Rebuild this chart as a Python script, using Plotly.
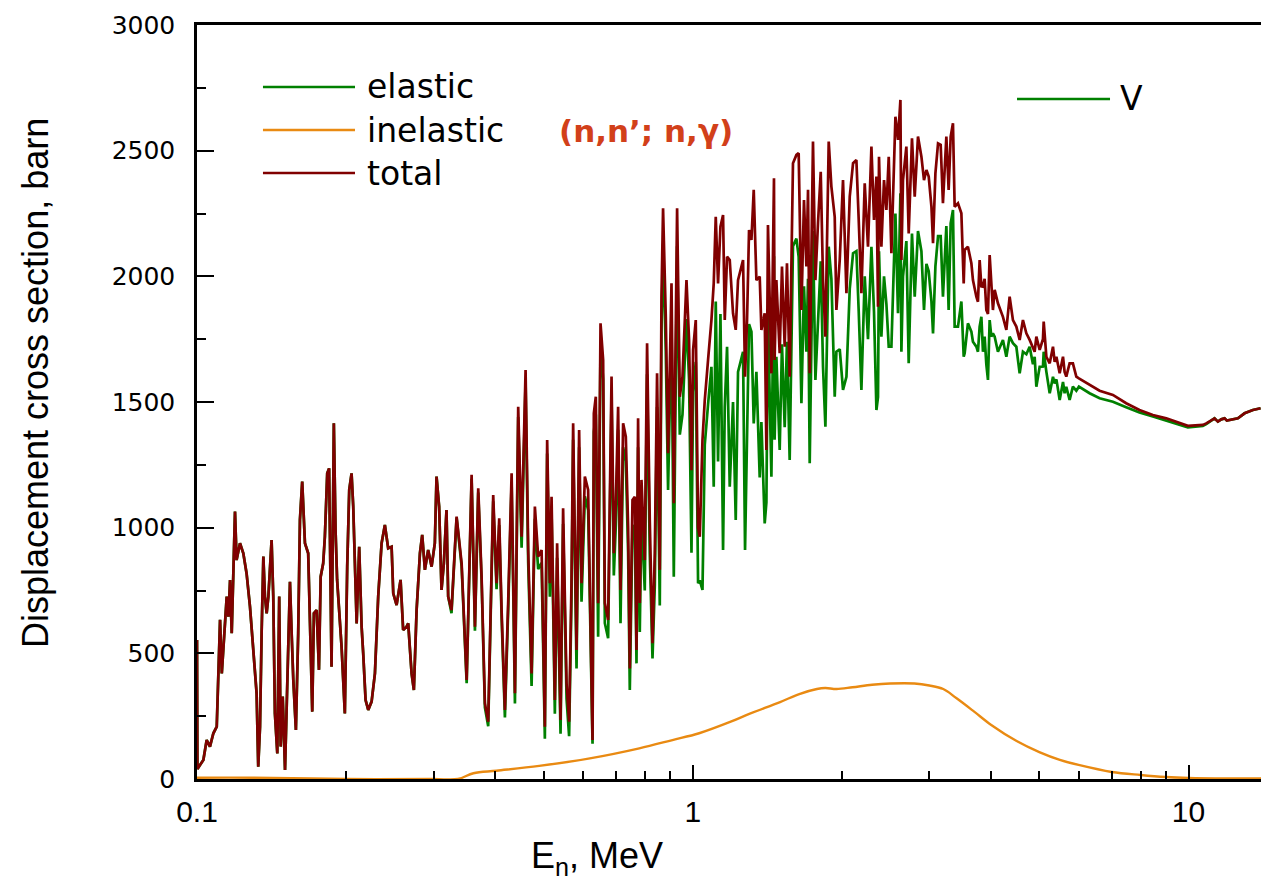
import math
import plotly.graph_objects as go

# ---------------- data ----------------
# Neutron energy, MeV (below the inelastic threshold total == elastic)
E_low = [0.1000, 0.1002, 0.1030, 0.1046, 0.1062, 0.1079, 0.1096, 0.1113, 0.1122, 0.1130,
         0.1148, 0.1157, 0.1166, 0.1175, 0.1184, 0.1193, 0.1202, 0.1221, 0.1240, 0.1259,
         0.1279, 0.1299, 0.1319, 0.1329, 0.1340, 0.1350, 0.1361, 0.1371, 0.1382, 0.1393,
         0.1414, 0.1425, 0.1436, 0.1452, 0.1465, 0.1475, 0.1489, 0.1505, 0.1521, 0.1540,
         0.1552, 0.1564, 0.1583, 0.1600, 0.1613, 0.1630, 0.1651, 0.1676, 0.1708, 0.1721,
         0.1743, 0.1762, 0.1776, 0.1797, 0.1811, 0.1831, 0.1847, 0.1868, 0.1888, 0.1903,
         0.1917, 0.1957, 0.1987, 0.2009, 0.2028, 0.2050, 0.2066, 0.2099, 0.2124, 0.2148,
         0.2164, 0.2188, 0.2215, 0.2250, 0.2285, 0.2320, 0.2357, 0.2393, 0.2430, 0.2469,
         0.2488, 0.2527, 0.2574, 0.2605, 0.2647, 0.2667, 0.2709, 0.2738, 0.2773, 0.2816,
         0.2846, 0.2882, 0.2926, 0.2973, 0.3018, 0.3042, 0.3079, 0.3113, 0.3147, 0.3186,
         0.3211]
total_low = [553, 40, 76, 155, 129, 182, 208, 633, 420, 527,
             726, 646, 792, 580, 792, 1064, 871, 938, 898, 818,
             686, 500, 341, 49, 208, 580, 885, 726, 659, 726,
             951, 726, 261, 102, 726, 129, 328, 36, 394, 785,
             580, 394, 195, 580, 1031, 1183, 938, 898, 268, 659,
             672, 434, 805, 858, 964, 1216, 1236, 447, 1415, 991,
             792, 527, 261, 845, 1150, 1216, 1084, 619, 924, 606,
             500, 314, 275, 308, 420, 726, 938, 1011, 918, 924,
             739, 692, 792, 593, 606, 619, 420, 354, 672, 898,
             971, 832, 911, 845, 938, 1203, 1084, 752, 858, 1070,
             726]
elastic_low = total_low  # elastic and total coincide below ~0.33 MeV

E_mid = [0.3261, 0.3339, 0.3418, 0.3499, 0.3580, 0.3636, 0.3692, 0.3750, 0.3808, 0.3867,
         0.3910, 0.3958, 0.4020, 0.4070, 0.4115, 0.4179, 0.4244, 0.4311, 0.4378, 0.4445,
         0.4516, 0.4600, 0.4656, 0.4730, 0.4803, 0.4877, 0.4955, 0.5031, 0.5085, 0.5149,
         0.5190, 0.5270, 0.5326, 0.5411, 0.5476, 0.5564, 0.5631, 0.5693, 0.5737, 0.5828,
         0.5899, 0.5965, 0.6058, 0.6151, 0.6278,
         0.6316, 0.6374, 0.6443, 0.6515, 0.6595, 0.6647, 0.6749, 0.6857, 0.6930, 0.6995,
         0.7070, 0.7149, 0.7236, 0.7327, 0.7406, 0.7464, 0.7558, 0.7640, 0.7700, 0.7757,
         0.7818, 0.7880, 0.8001, 0.8088, 0.8189, 0.8294, 0.8383, 0.8472, 0.8579, 0.8647,
         0.8711, 0.8822, 0.8916, 0.9059, 0.9156, 0.9298, 0.9415, 0.9533, 0.9712, 0.9829,
         0.9940, 1.0014, 1.0140, 1.0249, 1.0330, 1.0461, 1.0573, 1.0735, 1.0905, 1.1022,
         1.1126, 1.1246, 1.1371, 1.1510, 1.1601, 1.1726, 1.1873, 1.2055, 1.2208, 1.2339,
         1.2479, 1.2630, 1.2747, 1.2867, 1.2986, 1.3132, 1.3272, 1.3437, 1.3646, 1.3753,
         1.3966, 1.4076, 1.4180,
         1.4407, 1.4581, 1.4623, 1.4743, 1.4973, 1.5133, 1.5325, 1.5488, 1.5684, 1.5926,
         1.6181, 1.6353, 1.6562, 1.6762, 1.6950, 1.7079, 1.7213, 1.7477, 1.7675, 1.7888,
         1.8117, 1.8310, 1.8514, 1.8802, 1.9037, 1.9333, 1.9485, 1.9789, 2.0092, 2.0414,
         2.0730, 2.1052, 2.1380, 2.1613, 2.1884, 2.2224, 2.2565, 2.2926, 2.3202, 2.3465,
         2.3640, 2.3749, 2.4013, 2.4307, 2.4578, 2.4845, 2.5155, 2.5629, 2.5938, 2.6232,
         2.6351, 2.6546, 2.6967, 2.7260, 2.7679, 2.8032, 2.8462, 2.8918, 2.9267, 2.9599,
         2.9915, 3.0296, 3.0521, 3.0860, 3.1239, 3.1623, 3.1960, 3.2471, 3.2817, 3.3129,
         3.3482, 3.3745, 3.4271, 3.4815, 3.5193,
         3.5351, 3.5892, 3.6468, 3.6738, 3.7325, 3.7601, 3.7897, 3.8204, 3.8487, 3.8789,
         3.9094, 3.9392, 3.9702, 4.0015, 4.0311, 4.0637, 4.1259, 4.2229, 4.2903, 4.3561,
         4.4239, 4.4939, 4.5638, 4.6339, 4.7081, 4.7806, 4.8550, 4.8932, 4.9317, 5.0084,
         5.0853, 5.1029, 5.1668, 5.2472, 5.3277, 5.3696, 5.4131, 5.4961, 5.5815, 5.6234,
         5.6676, 5.7559, 5.8441, 5.9377, 6.0093]
total_mid = [672, 1044, 858, 394, 1210, 606, 1157, 805, 301, 228,
             672, 1130, 779, 1037, 672, 275, 712, 1216, 341, 1481,
             964, 1627, 911, 420, 1084, 885, 911, 208, 1349, 779,
             1123, 314, 938, 235, 1077, 381, 228, 779, 1415, 513,
             1389, 779, 1203, 1150, 155,
             1455, 1521, 699, 1813, 1667, 700, 633, 1601, 898, 1097,
             1481, 752, 1415, 1362, 1004, 440, 1110, 1123, 513, 1435,
             700, 1190, 871, 1734, 1031, 540, 898, 1614, 832, 1919,
             2271, 1839, 1296, 1972, 1097, 2271, 1521, 1601, 1985, 1747,
             1229, 1707, 1826, 1000, 964, 1349, 1508, 1667, 1826, 1972,
             2237, 1972, 2198, 2244, 1826, 2078, 2065, 1853, 1787, 1985,
             2025, 2065, 1601, 1826, 2184, 2145, 2344, 1985, 1999, 1787,
             1853, 1309, 2204,
             1614, 2390, 1667, 1985, 1694, 2039, 1720, 2052, 1601, 2450,
             2483, 2490, 1866, 2304, 2039, 2344, 1614, 2536, 1985, 2211,
             2416, 1985, 1760, 2536, 2357, 2237, 1866, 2065, 2383, 1933,
             2317, 2450, 2463, 2224, 1933, 2370, 2118, 2516, 2224, 2397,
             1879, 2476, 2118, 2383, 2264, 2476, 2092, 2635, 2543, 2702,
             2065, 2383, 2516, 2171, 2549, 2317, 2556, 2476, 2383, 2423,
             2397, 2277, 2132, 2410, 2529, 2523, 2291, 2556, 2344, 2556,
             2609, 2277, 2291, 2251, 1972,
             2105, 2118, 2052, 1985, 1919, 1899, 2065, 1960, 1959, 1990,
             1866, 1850, 2085, 1959, 1866, 1946, 1893, 1839, 1787, 1919,
             1826, 1800, 1747, 1826, 1773, 1747, 1720, 1700, 1760, 1707,
             1750, 1820, 1680, 1654, 1720, 1660, 1680, 1614, 1680, 1620,
             1601, 1654, 1654, 1601, 1594]
elastic_mid = [660, 1040, 845, 381, 1195, 590, 1140, 790, 285, 210,
               650, 1105, 755, 1010, 645, 245, 680, 1180, 300, 1440,
               920, 1580, 860, 370, 1035, 835, 860, 160, 1295, 725,
               1065, 260, 880, 180, 1015, 320, 170, 715, 1350, 440,
               1320, 705, 1125, 1070, 140,
               1380, 1450, 566, 1740, 1590, 620, 560, 1520, 810, 1010,
               1390, 620, 1320, 1265, 900, 354, 1000, 1010, 460, 1320,
               585, 1070, 750, 1610, 900, 480, 770, 1480, 690, 1780,
               2130, 1700, 1150, 1825, 805, 2120, 1370, 1450, 1830, 1590,
               900, 1540, 1660, 779, 790, 752, 1330, 1490, 1640, 1163,
               1900, 1263, 1850, 911, 1480, 1720, 1163, 1500, 1031, 1620,
               1660, 1700, 911, 1460, 1810, 1780, 1415, 1620, 1200, 1420,
               1017, 1100, 1850,
               1203, 2080, 1350, 1680, 1309, 1730, 1400, 1740, 1269, 2120,
               2150, 2078, 1495, 1960, 1700, 1990, 1256, 2180, 1588, 1850,
               2060, 1640, 1402, 2118, 1990, 1521, 1700, 1710, 1548, 1600,
               1950, 2092, 2100, 1860, 1548, 2000, 1750, 2118, 1860, 1468,
               1520, 2100, 1760, 2000, 1890, 1720, 1720, 2250, 1853, 2330,
               1700, 2000, 2140, 1654, 2170, 1919, 2180, 2100, 1866, 2050,
               2020, 1900, 1773, 2040, 2160, 2160, 1919, 2200, 1866, 2211,
               2264, 1800, 1800, 1900, 1680,
               1694, 1813, 1780, 1740, 1720, 1700, 1800, 1839, 1700, 1760,
               1650, 1588, 1826, 1760, 1773, 1760, 1700, 1747, 1680, 1760,
               1734, 1720, 1614, 1700, 1690, 1720, 1650, 1680, 1561, 1640,
               1641, 1700, 1620, 1535, 1600, 1574, 1590, 1508, 1580, 1535,
               1560, 1508, 1561, 1545, 1561]

E_tail = [6.3155, 6.6155, 7.0375, 7.4851, 7.9616, 8.4723, 9.0157, 9.5917, 9.968, 10.686,
          10.856, 11.283, 11.459, 11.641, 11.822, 11.948, 12.285, 12.575, 12.972, 13.481,
          13.973]
total_tail = [1568, 1545, 1528, 1495, 1468, 1448, 1435, 1415, 1405, 1409,
              1415, 1435, 1422, 1431, 1435, 1426, 1431, 1435, 1455, 1468,
              1475]
elastic_tail = [1535, 1515, 1501, 1479, 1458, 1442, 1426, 1409, 1399, 1405,
                1412, 1435, 1422, 1431, 1435, 1426, 1431, 1435, 1455, 1468,
                1475]

E_inel = [0.1, 0.13, 0.2, 0.3, 0.336, 0.361, 0.402, 0.49, 0.62, 0.78,
          0.91, 1.03, 1.2, 1.3, 1.5, 1.64, 1.78, 1.85, 1.95, 2.1,
          2.3, 2.5, 2.8, 3.0, 3.2, 3.4, 3.7, 4.0, 4.5, 5.0,
          5.5, 6.0, 7.0, 8.0, 9.0, 10.0, 12.0, 14.0]
inelastic = [5, 5, 0, 0, 0, 23, 33, 52, 82, 122,
             155, 182, 230, 259, 306, 338, 358, 362, 358, 365,
             375, 380, 380, 372, 358, 322, 267, 215, 151, 107,
             76, 56, 28, 16, 8, 4, 2, 2]

x_ticks = [0.1, 1, 10]
x_tick_text = ["0.1", "1", "10"]
x_minor = [0.2, 0.3, 0.4, 0.5, 0.6, 0.7, 0.8, 0.9, 2, 3, 4, 5, 6, 7, 8, 9]
y_ticks = [0, 500, 1000, 1500, 2000, 2500, 3000]

# ---------------- styling ----------------
C_EL = "#008000"
C_IN = "#E98A12"
C_TOT = "#800000"
C_NOTE = "#D2401A"
WIDE = "DejaVu Sans, Verdana, sans-serif"
ARIAL = "Liberation Sans, Arial, sans-serif"
LW = 2.7

fig = go.Figure()
fig.add_trace(go.Scatter(x=E_low + E_mid + E_tail, y=elastic_low + elastic_mid + elastic_tail,
                         mode="lines", line=dict(color=C_EL, width=LW), name="elastic"))
fig.add_trace(go.Scatter(x=E_inel, y=inelastic, mode="lines",
                         line=dict(color=C_IN, width=2.4, shape="spline"), name="inelastic"))
fig.add_trace(go.Scatter(x=E_low + E_mid + E_tail, y=total_low + total_mid + total_tail,
                         mode="lines", line=dict(color=C_TOT, width=LW), name="total"))

fig.update_layout(
    width=1261, height=888,
    margin=dict(l=197, r=0, t=25, b=109),
    paper_bgcolor="white", plot_bgcolor="white",
    showlegend=False,
    xaxis=dict(type="log", range=[-1, math.log10(14.0)],
               showline=True, linecolor="black", linewidth=2.5, mirror=True,
               ticks="inside", ticklen=14, tickwidth=2, tickcolor="black",
               tickmode="array", tickvals=x_ticks, ticktext=x_tick_text,
               tickfont=dict(family=ARIAL, size=30, color="black"),
               ticklabelstandoff=4,
               showgrid=False, zeroline=False,
               minor=dict(ticks="inside", ticklen=8, tickwidth=1.5, tickcolor="black",
                          tickmode="array", tickvals=x_minor, showgrid=False)),
    yaxis=dict(range=[0, 3000], showline=True, linecolor="black", linewidth=2.5,
               ticks="inside", ticklen=17, tickwidth=2, tickcolor="black",
               tickmode="array", tickvals=y_ticks,
               tickfont=dict(family=WIDE, size=25, color="black"),
               ticklabelstandoff=14,
               showgrid=False, zeroline=False,
               minor=dict(ticks="inside", ticklen=9, tickwidth=1.5, tickcolor="black",
                          dtick=250, showgrid=False)),
)

annotations = [
    dict(text="Displacement cross section, barn", xref="paper", yref="paper",
         x=-0.1513, y=0.5252, xanchor="center", yanchor="middle", textangle=-90,
         showarrow=False, font=dict(family=ARIAL, size=36, color="black")),
    dict(text="E<sub>n</sub>, MeV", xref="paper", yref="paper",
         x=0.3759, y=-0.1048, xanchor="center", yanchor="middle",
         showarrow=False, font=dict(family=ARIAL, size=36, color="black")),
    dict(text="<b>(n,n’; n,γ)</b>", xref="paper", yref="paper",
         x=0.3383, y=0.8594, xanchor="left", yanchor="middle",
         showarrow=False, font=dict(family=WIDE, size=31, color=C_NOTE)),
]
shapes = []
legend_rows = [("elastic", C_EL, 0.9178), ("inelastic", C_IN, 0.8607), ("total", C_TOT, 0.8037)]
for label, col, yy in legend_rows:
    shapes.append(dict(type="line", xref="paper", yref="paper", x0=0.0620, x1=0.1485, y0=yy, y1=yy,
                       line=dict(color=col, width=2.5)))
    annotations.append(dict(text=label, xref="paper", yref="paper", x=0.1579, y=yy,
                            xanchor="left", yanchor="middle", showarrow=False,
                            font=dict(family=WIDE, size=33, color="black")))
shapes.append(dict(type="line", xref="paper", yref="paper", x0=0.7707, x1=0.8581, y0=0.9019, y1=0.9019,
                   line=dict(color=C_EL, width=2.5)))
annotations.append(dict(text="V", xref="paper", yref="paper", x=0.8656, y=0.9019,
                        xanchor="left", yanchor="middle", showarrow=False,
                        font=dict(family=WIDE, size=33, color="black")))
fig.update_layout(annotations=annotations, shapes=shapes)

fig.write_html("out.html")
